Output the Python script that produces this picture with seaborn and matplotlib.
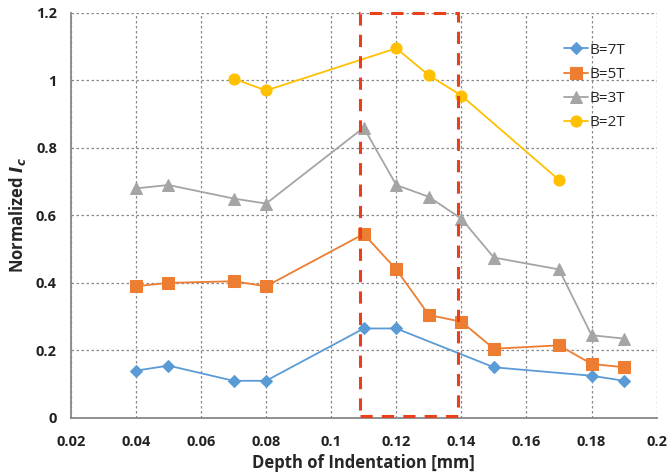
import numpy as np
import pandas as pd
import seaborn as sns
import matplotlib.pyplot as plt
from matplotlib.patches import Rectangle

sns.set_style("white")
plt.rcParams['font.family'] = ['Open Sans', 'DejaVu Sans']

# data
x_7t = [0.04, 0.05, 0.07, 0.08, 0.11, 0.12, 0.15, 0.18, 0.19]
y_7t = [0.14, 0.155, 0.11, 0.11, 0.265, 0.265, 0.15, 0.125, 0.11]

x_5t = [0.04, 0.05, 0.07, 0.08, 0.11, 0.12, 0.13, 0.14, 0.15, 0.17, 0.18, 0.19]
y_5t = [0.39, 0.40, 0.405, 0.39, 0.545, 0.44, 0.305, 0.285, 0.205, 0.215, 0.16, 0.15]

x_3t = [0.04, 0.05, 0.07, 0.08, 0.11, 0.12, 0.13, 0.14, 0.15, 0.17, 0.18, 0.19]
y_3t = [0.68, 0.69, 0.65, 0.635, 0.86, 0.69, 0.655, 0.59, 0.475, 0.44, 0.245, 0.235]

x_2t = [0.07, 0.08, 0.12, 0.13, 0.14, 0.17]
y_2t = [1.005, 0.97, 1.095, 1.015, 0.955, 0.705]

labels = ["B=7T", "B=5T", "B=3T", "B=2T"]
colors = ["#5B9BD5", "#ED7D31", "#A5A5A5", "#FFC000"]
markers = ["D", "s", "^", "o"]
msizes = [6, 8, 8, 8]

frames = []
for lab, xs, ys in zip(labels, [x_7t, x_5t, x_3t, x_2t], [y_7t, y_5t, y_3t, y_2t]):
    frames.append(pd.DataFrame({"depth": xs, "ic": ys, "field": lab}))
df = pd.concat(frames, ignore_index=True)

fig = plt.figure(figsize=(6.68, 4.76), dpi=100)
ax = fig.add_axes([0.106, 0.122, 0.877, 0.851])

for lab, c, m, ms in zip(labels, colors, markers, msizes):
    sub = df[df.field == lab]
    sns.lineplot(data=sub, x="depth", y="ic", color=c, marker=m, markersize=ms,
                 markeredgecolor=c, linewidth=1.3, label=lab, ax=ax, sort=False)

# highlight box
ax.add_patch(Rectangle((0.109, 0.005), 0.03, 1.195, fill=False, edgecolor="#E8401C",
                       linestyle=(0, (4, 3)), linewidth=2.2, zorder=5, clip_on=False))

ax.set_xlim(0.02, 0.2)
ax.set_ylim(0, 1.2)
ax.set_xticks(np.arange(0.02, 0.201, 0.02))
ax.set_xticklabels(["0.02", "0.04", "0.06", "0.08", "0.1", "0.12", "0.14", "0.16", "0.18", "0.2"])
ax.set_yticks(np.arange(0, 1.21, 0.2))
ax.set_yticklabels(["0", "0.2", "0.4", "0.6", "0.8", "1", "1.2"])
ax.grid(True, linestyle=(0, (2, 2)), color="#888888", linewidth=0.9)
for s in ["top", "right"]:
    ax.spines[s].set_visible(False)
for s in ["left", "bottom"]:
    ax.spines[s].set_color("#888888")
    ax.spines[s].set_linewidth(1.3)
ax.tick_params(axis="both", labelsize=10.5, colors="#222222", direction="in", length=3)
ax.tick_params(axis="x", pad=12, length=0)
ax.tick_params(axis="y", pad=10)
for t in ax.get_xticklabels() + ax.get_yticklabels():
    t.set_fontweight("bold")

ax.set_xlabel("Depth of Indentation [mm]", fontsize=12, fontweight="bold", labelpad=4)
ax.set_ylabel("Normalized $\\mathbfit{I_c}$", fontsize=12, fontweight="bold", labelpad=6)

leg = ax.legend(loc="upper right", bbox_to_anchor=(0.97, 0.96), frameon=False,
                fontsize=11, handlelength=1.6, handletextpad=0.1, labelspacing=0.6)

fig.savefig("out.png", dpi=100)
